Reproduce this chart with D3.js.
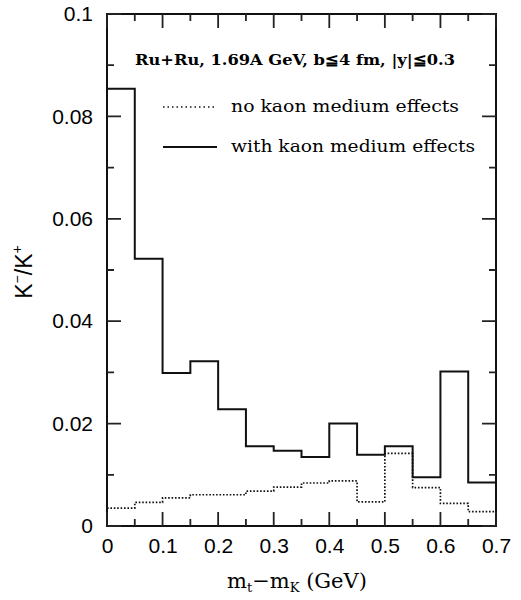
<!DOCTYPE html>
<html lang="en">
  <head>
    <meta charset="UTF-8" />
    <title>K-/K+ ratio vs mt-mK</title>
    <script src="https://cdnjs.cloudflare.com/ajax/libs/d3/7.8.5/d3.min.js"></script>
    <style>
      body { margin: 0; background: #fff; }
      .tick-label { font-family: "Liberation Sans", Arial, sans-serif; font-size: 21px; fill: #000; }
      .serif { font-family: "DejaVu Serif", "Liberation Serif", serif; fill: #000; }
    </style>
  </head>
  <body>
    <div id="chart"></div>
    <script>
      /** Data: bins of 0.05 GeV */
      const binEdges = [0, 0.05, 0.1, 0.15, 0.2, 0.25, 0.3, 0.35, 0.4, 0.45, 0.5, 0.55, 0.6, 0.65, 0.7];
      const withMedium = [0.0854, 0.0522, 0.0299, 0.0322, 0.0228, 0.0156, 0.0147, 0.0135, 0.0200, 0.0139, 0.0156, 0.0095, 0.0302, 0.0085];
      const noMedium = [0.0035, 0.0046, 0.0055, 0.0061, 0.0061, 0.0068, 0.0076, 0.0084, 0.0088, 0.0047, 0.0142, 0.0075, 0.0044, 0.0028];
      const xTicks = [0, 0.1, 0.2, 0.3, 0.4, 0.5, 0.6, 0.7];
      const xMinorTicks = [0.05, 0.15, 0.25, 0.35, 0.45, 0.55, 0.65];
      const yTicks = [0, 0.02, 0.04, 0.06, 0.08, 0.1];
      const yMinorTicks = [0.01, 0.03, 0.05, 0.07, 0.09];

      /** Layout */
      const width = 521;
      const height = 600;
      const plotLeft = 107, plotRight = 496, plotTop = 14, plotBottom = 526;
      const majorLen = 14, minorLen = 7;

      const x = d3.scaleLinear().domain([0, 0.7]).range([plotLeft, plotRight]);
      const y = d3.scaleLinear().domain([0, 0.1]).range([plotBottom, plotTop]);

      const svg = d3.select("#chart").append("svg")
        .attr("width", width).attr("height", height);

      /** Frame */
      svg.append("rect")
        .attr("x", plotLeft).attr("y", plotTop)
        .attr("width", plotRight - plotLeft).attr("height", plotBottom - plotTop)
        .attr("fill", "none").attr("stroke", "#111").attr("stroke-width", 2);

      /** Inward ticks on all four sides */
      const xTickPath = (vals, len) => vals.map((d) =>
        `M${x(d)},${plotBottom}v${-len}M${x(d)},${plotTop}v${len}`).join("");
      const yTickPath = (vals, len) => vals.map((d) =>
        `M${plotLeft},${y(d)}h${len}M${plotRight},${y(d)}h${-len}`).join("");
      svg.append("path")
        .attr("d", xTickPath(xTicks, majorLen) + xTickPath(xMinorTicks, minorLen) +
                   yTickPath(yTicks, majorLen) + yTickPath(yMinorTicks, minorLen))
        .attr("fill", "none").attr("stroke", "#222").attr("stroke-width", 1.8);

      /** Tick labels */
      const xLab = svg.append("g").attr("transform", `translate(0,${plotBottom})`)
        .call(d3.axisBottom(x).tickValues(xTicks).tickSize(0).tickPadding(12).tickFormat(d3.format("~g")));
      xLab.select(".domain").remove();
      xLab.selectAll("text").attr("class", "tick-label");
      xLab.attr("font-size", null).attr("font-family", null);

      const yLab = svg.append("g").attr("transform", `translate(${plotLeft},0)`)
        .call(d3.axisLeft(y).tickValues(yTicks).tickSize(0).tickPadding(14).tickFormat(d3.format("~g")));
      yLab.select(".domain").remove();
      yLab.selectAll("text").attr("class", "tick-label");
      yLab.attr("font-size", null).attr("font-family", null);

      /** Histograms */
      const step = d3.line()
        .x((d) => x(d[0]))
        .y((d) => y(d[1]))
        .curve(d3.curveStepAfter);
      const pts = (vals) => binEdges.map((e, i) => [e, i < vals.length ? vals[i] : vals[vals.length - 1]]);

      svg.append("path").attr("d", step(pts(noMedium)))
        .attr("fill", "none").attr("stroke", "#111").attr("stroke-width", 1.7)
        .attr("stroke-dasharray", "1.6,1.8");
      svg.append("path").attr("d", step(pts(withMedium)))
        .attr("fill", "none").attr("stroke", "#111").attr("stroke-width", 2);

      /** Title and legend */
      svg.append("text").attr("class", "serif")
        .attr("x", 135).attr("y", 65)
        .attr("font-size", 15).attr("font-weight", "bold")
        .attr("textLength", 320).attr("lengthAdjust", "spacingAndGlyphs")
        .text("Ru+Ru, 1.69A GeV, b\u22664 fm, |y|\u22660.3");

      svg.append("line").attr("x1", 163).attr("x2", 216).attr("y1", 107).attr("y2", 107)
        .attr("stroke", "#111").attr("stroke-width", 1.6).attr("stroke-dasharray", "1.5,3");
      svg.append("text").attr("class", "serif")
        .attr("x", 231).attr("y", 112).attr("font-size", 16)
        .attr("textLength", 228).attr("lengthAdjust", "spacingAndGlyphs")
        .text("no kaon medium effects");

      svg.append("line").attr("x1", 163).attr("x2", 217).attr("y1", 147).attr("y2", 147)
        .attr("stroke", "#111").attr("stroke-width", 2);
      svg.append("text").attr("class", "serif")
        .attr("x", 231).attr("y", 152).attr("font-size", 16)
        .attr("textLength", 244).attr("lengthAdjust", "spacingAndGlyphs")
        .text("with kaon medium effects");

      /** Axis titles */
      const xt = svg.append("text").attr("class", "serif")
        .attr("x", 297).attr("y", 588).attr("font-size", 21)
        .attr("text-anchor", "middle");
      xt.append("tspan").text("m");
      xt.append("tspan").attr("font-size", 13).attr("dy", 4).text("t");
      xt.append("tspan").attr("dy", -4).text("\u2212m");
      xt.append("tspan").attr("font-size", 13).attr("dy", 4).text("K");
      xt.append("tspan").attr("dy", -4).text(" (GeV)");

      const yt = svg.append("text")
        .attr("transform", "translate(32,272) rotate(-90)")
        .attr("text-anchor", "middle")
        .attr("font-family", "Liberation Sans, Arial, sans-serif")
        .attr("font-size", 23);
      yt.append("tspan").text("K");
      yt.append("tspan").attr("font-size", 14).attr("dy", -10).text("\u2212");
      yt.append("tspan").attr("dy", 10).text("/K");
      yt.append("tspan").attr("font-size", 14).attr("dy", -10).text("+");
    </script>
  </body>
</html>
